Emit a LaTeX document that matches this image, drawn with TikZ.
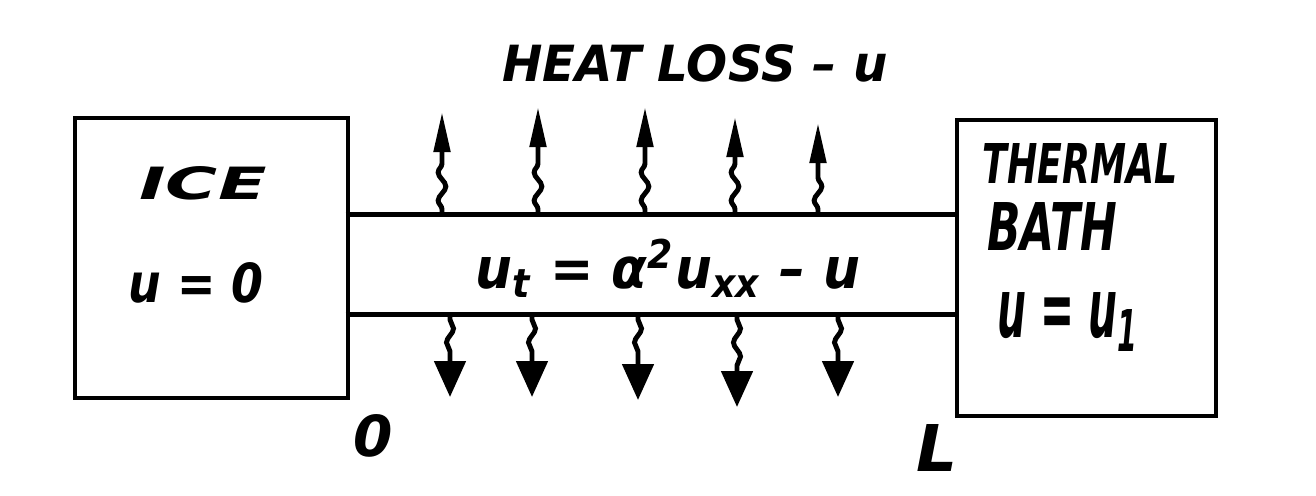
\documentclass[tikz,border=0pt]{standalone}
\usepackage{fontspec}
\usepackage{graphicx}
\setmainfont{DejaVu Sans}
\usetikzlibrary{arrows.meta,decorations.pathmorphing}
\newcommand\fitbox[3]{\resizebox{#1}{#2}{#3}}
\begin{document}
\begin{tikzpicture}[x=0.02cm,y=-0.02cm,line width=2.8pt,
  boxnode/.style={draw,inner sep=0pt,line width=2.8pt},
  lbl/.style={inner sep=0pt,font=\bfseries\itshape},
  upflow/.style={decorate,decoration={snake,amplitude=2.2pt,segment length=16pt,pre length=3pt,post length=0.9cm},
    -{Triangle[length=0.8cm,width=0.32cm]}},
  downflow/.style={decorate,decoration={snake,amplitude=2pt,segment length=16pt,pre length=3pt,post length=0.8cm},
    -{Triangle[length=0.72cm,width=0.62cm]}}]
\useasboundingbox (0,0) rectangle (1316,495);
\node[boxnode,minimum width=5.46cm,minimum height=5.6cm] (ice) at (211.5,258) {};
\node[boxnode,minimum width=5.18cm,minimum height=5.92cm] (bath) at (1086.5,268) {};
\node[inner sep=0pt,minimum width=12.18cm,minimum height=1.9cm] (rod) at (652.5,264.5) {};
\draw (rod.north west) -- (rod.north east);
\draw (rod.south west) -- (rod.south east);
% labels
\node[lbl] (title) at (695,63) {\fitbox{7.72cm}{0.74cm}{HEAT LOSS – u}};
\node[lbl] (icet) at (203,183) {\fitbox{2.54cm}{0.66cm}{ICE}};
\node[lbl] (icev) at (196,283) {\fitbox{2.7cm}{0.8cm}{u = 0}};
\node[lbl] (th) at (1080,163) {\fitbox{3.9cm}{0.8cm}{THERMAL}};
\node[lbl] (ba) at (1052,226) {\fitbox{2.6cm}{0.96cm}{BATH}};
\node[lbl] (bv) at (1068,322) {\fitbox{2.84cm}{0.9cm}{u = u\textsubscript{1}}};
\node[lbl] (eq) at (668,268) {\fitbox{7.7cm}{1.0cm}{u\textsubscript{t} = α\textsuperscript{2}u\textsubscript{xx} – u}};
\node[lbl] (zero) at (373,436) {\fitbox{!}{0.84cm}{0}};
\node[lbl] (ell) at (937,448) {\fitbox{!}{0.94cm}{L}};
% heat loss arrows
\foreach \i/\x/\y in {1/442/112,2/538/107,3/645/107,4/735/117,5/818/123}{
  \coordinate (up\i) at (\x,\y);
  \draw[upflow] (up\i |- rod.north) -- (up\i);
}
\foreach \i/\x/\y in {1/450/397,2/532/397,3/638/400,4/737/407,5/838/397}{
  \coordinate (dn\i) at (\x,\y);
  \draw[downflow] (dn\i |- rod.south) -- (dn\i);
}
\end{tikzpicture}
\end{document}
